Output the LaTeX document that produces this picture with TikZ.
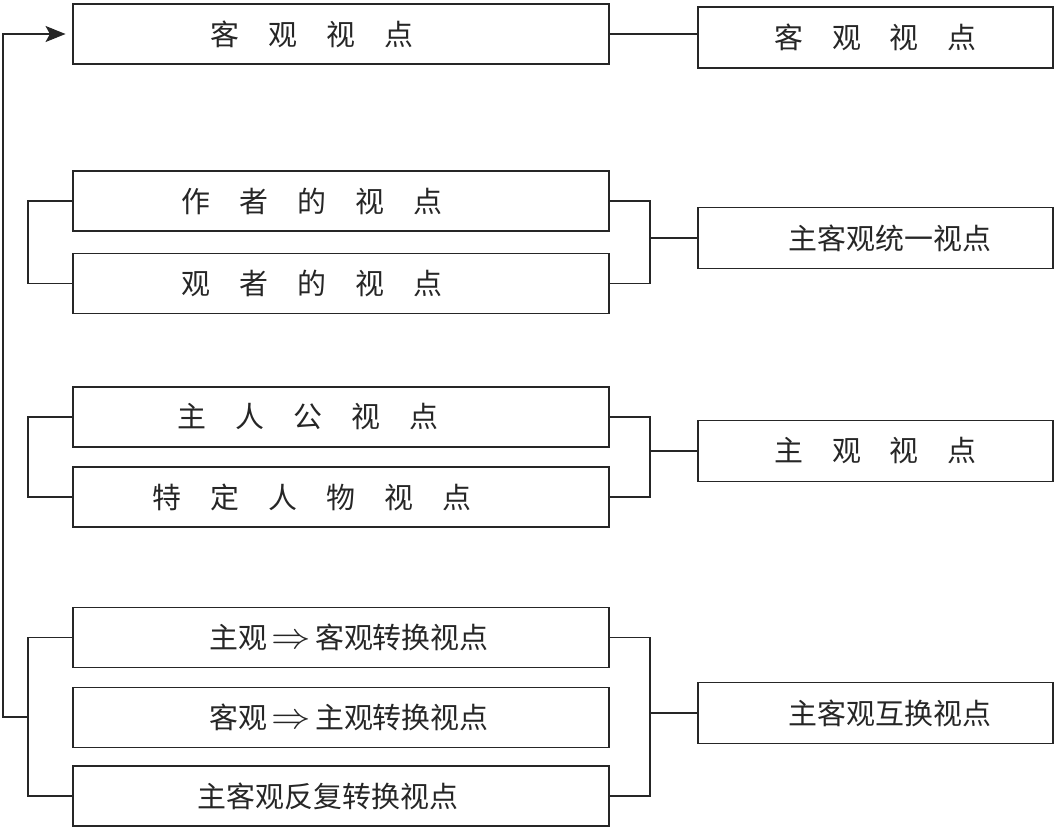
\documentclass[tikz,border=0pt]{standalone}
\usepackage{fontspec}
\usepackage{graphicx}
\newfontfamily\cjk{Noto Sans CJK SC}
\usetikzlibrary{arrows.meta,calc}
\newcommand\gap{\hspace{1em}}
\newcommand\imply{\kern0.15em\scalebox{1.35}[1.25]{$\Rightarrow$}\kern0.15em}

\begin{document}
\begin{tikzpicture}[
  x=0.03cm,y=-0.03cm,
  every node/.style={font=\cjk\fontsize{24.7}{30}\selectfont,text=black!85},
  leftbox/.style={draw=black!85,line width=1.3pt,inner sep=0pt,
    minimum width=16.08cm,minimum height=1.8cm},
  rightbox/.style={draw=black!85,line width=1.3pt,inner sep=0pt,
    minimum width=10.65cm,minimum height=1.82cm},
  ln/.style={line width=1.3pt,color=black!85},
  back/.style={ln,-{Stealth[length=6mm,width=4.8mm,inset=1.3mm]},shorten >=0.2cm}
]
  \useasboundingbox (0,0) rectangle (1064,832);

  % left column
  \node[leftbox] (obj) at (341,34) {客\gap 观\gap 视\gap 点\kern2em};
  \node[leftbox] (author) at (341,201) {作\gap 者\gap 的\gap 视\gap 点\kern2em};
  \node[leftbox] (viewer) at (341,283.5) {观\gap 者\gap 的\gap 视\gap 点\kern2em};
  \node[leftbox] (hero) at (341,417) {主\gap 人\gap 公\gap 视\gap 点\kern2.3em};
  \node[leftbox] (person) at (341,497) {特\gap 定\gap 人\gap 物\gap 视\gap 点\kern2em};
  \node[leftbox] (s2o) at (341,637.5) {\kern0.55em主观\imply 客观转换视点};
  \node[leftbox] (o2s) at (341,717.5) {\kern0.55em客观\imply 主观转换视点};
  \node[leftbox] (swap) at (341,796) {主客观反复转换视点\kern0.9em};

  % right column
  \node[rightbox] (robj) at (875.5,37.5) {客\gap 观\gap 视\gap 点};
  \node[rightbox] (unify) at (875.5,238) {\kern1em主客观统一视点};
  \node[rightbox] (subj) at (875.5,451) {主\gap 观\gap 视\gap 点};
  \node[rightbox] (mutual) at (875.5,713) {\kern1em主客观互换视点};

  \draw[ln] (obj.east) -- (obj.east -| robj.west);
  \foreach \a/\b/\r in {author/viewer/unify,hero/person/subj,s2o/swap/mutual}
    {\draw[ln] (\a.west) -- ++(-44,0) |- (\b.west);
     \draw[ln] (\a.east) -- ++(40,0) coordinate (k) |- (\b.east);
     \draw[ln] (\r.west) -- (\r.west -| k);}

  % feedback to the top
  \coordinate (loop) at ($(s2o.west)!0.5!(swap.west)+(-44,0)$);
  \draw[back] (loop) -- ++(-25,0) |- (obj.west);
\end{tikzpicture}
\end{document}
